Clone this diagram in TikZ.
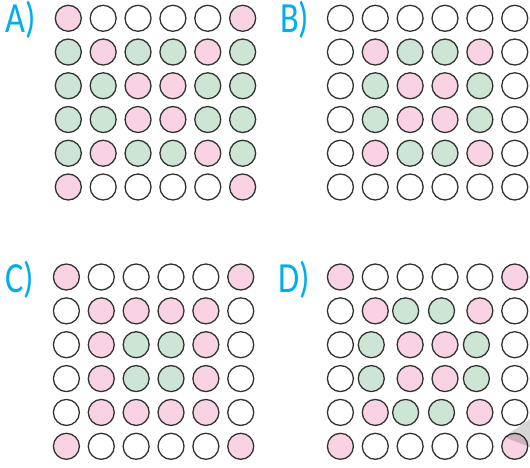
\documentclass[tikz,border=0pt]{standalone}
\usepackage{fontspec}
\setmainfont{Carlito}
\definecolor{pinkc}{RGB}{249,211,227}
\definecolor{greenc}{RGB}{204,229,212}
\definecolor{labc}{RGB}{0,174,239}
\definecolor{rimc}{RGB}{50,50,50}
\tikzset{
  dot/.style={circle,draw=rimc,line width=1.3pt,minimum size=26pt,inner sep=0pt},
  dotp/.style={fill=pinkc},
  dotg/.style={fill=greenc},
  dotw/.style={fill=white},
  lab/.style={anchor=base west,inner sep=0pt,text=labc,font=\fontsize{43}{43}\selectfont,xscale=0.8}
}
\newcommand\dotgrid[5]{%
  \foreach \cols [count=\i from 0] in {#5} {
    \foreach \s/\o [count=\j from 0] in \cols {
      \node[dot,\s] (#1-\i-\j) at ({#2+34.87*\j+\o},{#3+#4*\i}) {};
    }
  }%
}
\begin{document}
\begin{tikzpicture}[x=1pt,y=-1pt]
\useasboundingbox (0,0) rectangle (530,468);
% labels
\node[lab] (la) at (5,33) {A)};
\node[lab] (lb) at (280,33) {B)};
\node[lab] (lc) at (5,292) {C)};
\node[lab] (ld) at (278,292) {D)};
% grid A
\dotgrid{A}{68.3}{18.3}{33.74}{
 {dotp/0,dotw/0,dotw/0,dotw/0,dotw/0,dotp/0},
 {dotg/0,dotp/0,dotg/0,dotg/0,dotp/0,dotg/0},
 {dotg/0,dotg/0,dotp/0,dotp/0,dotg/0,dotg/0},
 {dotg/0,dotg/0,dotp/0,dotp/0,dotg/0,dotg/0},
 {dotg/0,dotp/0,dotg/0,dotg/0,dotp/0,dotg/0},
 {dotp/0,dotw/0,dotw/0,dotw/0,dotw/0,dotp/0}}
% grid B
\dotgrid{B}{340.4}{18.3}{33.74}{
 {dotw/0,dotw/0,dotw/0,dotw/0,dotw/0,dotw/0},
 {dotw/0,dotp/0,dotg/0,dotg/0,dotp/0,dotw/0},
 {dotw/0,dotg/0,dotp/0,dotp/0,dotg/0,dotw/0},
 {dotw/0,dotg/0,dotp/0,dotp/0,dotg/0,dotw/0},
 {dotw/0,dotp/0,dotg/0,dotg/0,dotp/0,dotw/0},
 {dotw/0,dotw/0,dotw/0,dotw/0,dotw/0,dotw/0}}
% grid C
\dotgrid{C}{66.4}{277}{33.86}{
 {dotp/0,dotw/0,dotw/0,dotw/0,dotw/0,dotp/0},
 {dotw/0,dotp/0,dotp/0,dotp/0,dotp/0,dotw/0},
 {dotw/0,dotp/0,dotg/0,dotg/0,dotp/0,dotw/0},
 {dotw/0,dotp/0,dotg/0,dotg/0,dotp/0,dotw/0},
 {dotw/0,dotp/0,dotp/0,dotp/0,dotp/0,dotw/0},
 {dotp/0,dotw/0,dotw/0,dotw/0,dotw/0,dotp/0}}
% grid D
\dotgrid{D}{340.4}{277}{33.86}{
 {dotp/0,dotw/0,dotw/0,dotw/0,dotw/0,dotp/0},
 {dotw/0,dotp/0,dotg/-4.5,dotg/-3.5,dotp/0,dotw/0},
 {dotw/0,dotg/-4,dotp/0,dotp/0,dotg/-3.5,dotw/0},
 {dotw/0,dotg/-4,dotp/0,dotp/0,dotg/-3.5,dotw/0},
 {dotw/0,dotp/0,dotg/-4.5,dotg/-3.5,dotp/0,dotw/0},
 {dotp/0,dotw/0,dotw/0,dotw/0,dotw/0,dotp/0}}
% page shadow
\fill[black,opacity=0.16] (504,437) -- (530,419) -- (530,447) -- cycle;
\end{tikzpicture}
\end{document}
